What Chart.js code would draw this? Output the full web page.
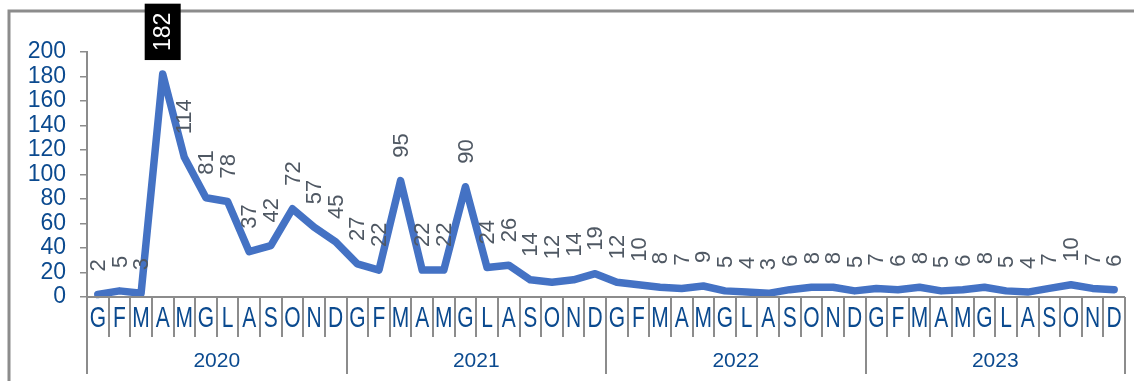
<!DOCTYPE html>
<html>
<head>
<meta charset="utf-8">
<script src="https://cdn.jsdelivr.net/npm/chart.js@4.4.1/dist/chart.umd.min.js"></script>
<style>
  html, body { margin: 0; padding: 0; background: #fff; }
  canvas { display: block; }
</style>
</head>
<body>
<canvas id="myChart" width="1134" height="381"></canvas>
<script>
const months = ['G', 'F', 'M', 'A', 'M', 'G', 'L', 'A', 'S', 'O', 'N', 'D'];
const years = ['2020', '2021', '2022', '2023'];
const values2020 = [2, 5, 3, 182, 114, 81, 78, 37, 42, 72, 57, 45];
const values2021 = [27, 22, 95, 22, 22, 90, 24, 26, 14, 12, 14, 19];
const values2022 = [12, 10, 8, 7, 9, 5, 4, 3, 6, 8, 8, 5];
const values2023 = [7, 6, 8, 5, 6, 8, 5, 4, 7, 10, 7, 6];
const yTicks = [0, 20, 40, 60, 80, 100, 120, 140, 160, 180, 200];

const FONT = '"Liberation Sans", Arial, sans-serif';
const BLUE_TEXT = '#0b4a8f';
const GRAY_LINE = '#8c8c8c';

const labels = years.flatMap(() => months);
const values = [...values2020, ...values2021, ...values2022, ...values2023];

// frame, two-level x axis and rotated value labels
const decorations = {
  id: 'decorations',
  beforeDraw(chart) {
    const ctx = chart.ctx;
    ctx.save();
    ctx.strokeStyle = GRAY_LINE;
    ctx.lineWidth = 3;
    ctx.beginPath();
    ctx.moveTo(9, chart.height);
    ctx.lineTo(9, 11);
    ctx.lineTo(chart.width, 11);
    ctx.stroke();
    ctx.restore();
  },
  afterDraw(chart) {
    const ctx = chart.ctx;
    const x = chart.scales.x;
    const y = chart.scales.y;
    const base = y.getPixelForValue(0);
    const step = x.getPixelForValue(1) - x.getPixelForValue(0);

    ctx.save();
    ctx.strokeStyle = GRAY_LINE;
    ctx.lineWidth = 2;
    ctx.beginPath();
    ctx.moveTo(x.getPixelForValue(0) - step / 2, base);
    ctx.lineTo(x.getPixelForValue(labels.length - 1) + step / 2, base);
    for (let i = 0; i <= labels.length; i++) {
      const px = Math.round(x.getPixelForValue(i) - step / 2);
      const isYear = i % months.length === 0;
      ctx.moveTo(px, base);
      ctx.lineTo(px, isYear ? 374 : 337);
    }
    ctx.stroke();

    ctx.fillStyle = BLUE_TEXT;
    ctx.textAlign = 'center';
    ctx.textBaseline = 'middle';
    ctx.font = '21px ' + FONT;
    labels.forEach((m, i) => {
      ctx.save();
      ctx.translate(x.getPixelForValue(i), 319);
      ctx.scale(1, 1.4);
      ctx.fillText(m, 0, 0);
      ctx.restore();
    });
    years.forEach((yr, k) => {
      const a = x.getPixelForValue(k * 12);
      const b = x.getPixelForValue(k * 12 + 11);
      ctx.fillText(yr, (a + b) / 2, 361);
    });

    const meta = chart.getDatasetMeta(0);
    const maxVal = Math.max(...values);
    ctx.textAlign = 'left';
    meta.data.forEach((pt, i) => {
      const txt = String(values[i]);
      ctx.save();
      ctx.translate(pt.x, pt.y - 23);
      ctx.rotate(-Math.PI / 2);
      if (values[i] === maxVal) {
        ctx.font = '23px ' + FONT;
        const w = ctx.measureText(txt).width;
        ctx.fillStyle = '#000';
        ctx.fillRect(-9, -18, w + 18, 36);
        ctx.fillStyle = '#fff';
      } else {
        ctx.font = '22px ' + FONT;
        ctx.fillStyle = '#4f5863';
      }
      ctx.fillText(txt, 0, 1);
      ctx.restore();
    });
    ctx.restore();
  }
};

new Chart('myChart', {
  type: 'line',
  data: {
    labels: labels,
    datasets: [
      {
        data: values,
        borderColor: '#4472C4',
        borderWidth: 7.5,
        borderJoinStyle: 'round',
        borderCapStyle: 'round',
        pointRadius: 0,
        pointHoverRadius: 0,
        tension: 0,
        fill: false,
        clip: false,
      },
    ],
  },
  options: {
    responsive: false,
    animation: false,
    layout: { padding: { top: 52, right: 9, bottom: 84, left: 8 } },
    plugins: {
      legend: { display: false },
      tooltip: { enabled: false },
    },
    scales: {
      x: {
        display: false,
        offset: true,
      },
      y: {
        min: 0,
        max: 200,
        afterFit(scale) { scale.width = 79; },
        afterBuildTicks(scale) { scale.ticks = yTicks.map(v => ({ value: v })); },
        ticks: {
          autoSkip: false,
          color: BLUE_TEXT,
          font: { family: FONT, size: 23 },
          padding: 14,
        },
        grid: {
          drawOnChartArea: false,
          drawTicks: true,
          tickLength: 7,
          color: GRAY_LINE,
          lineWidth: 1.5,
        },
        border: { color: GRAY_LINE, width: 2 },
      },
    },
  },
  plugins: [decorations],
});
</script>
</body>
</html>
